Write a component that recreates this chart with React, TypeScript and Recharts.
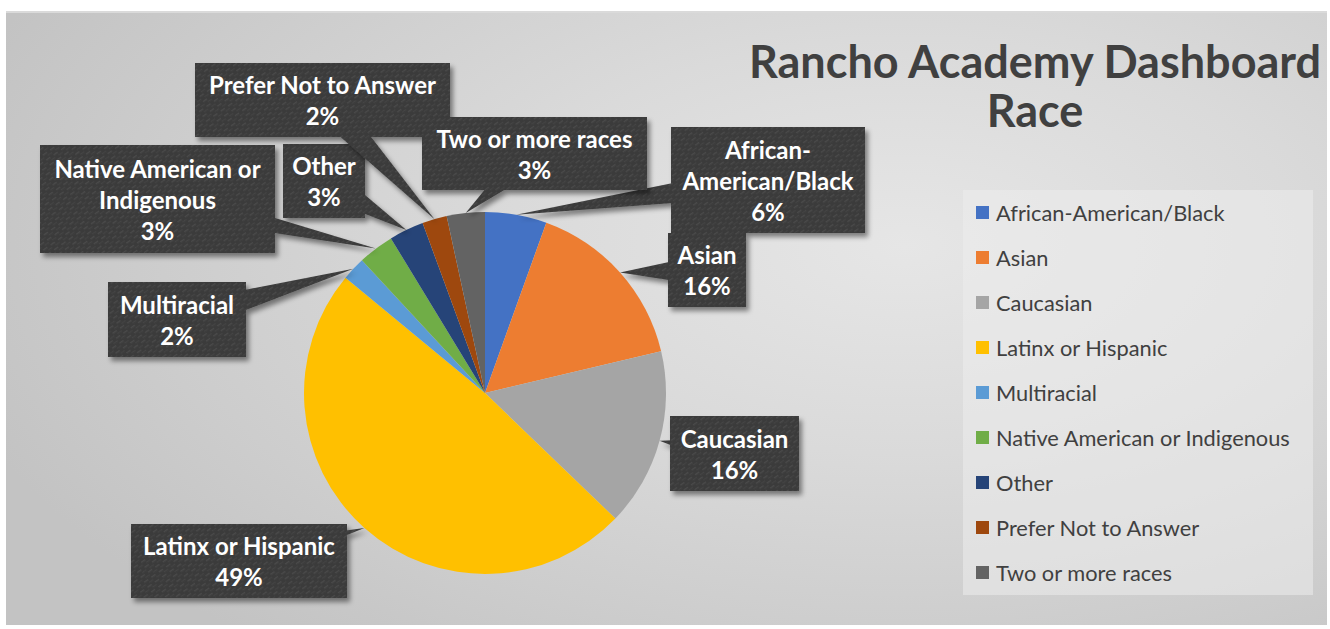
import React from 'react';
import { PieChart, Pie, Cell, Legend } from 'recharts';

// Race breakdown, Rancho Academy dashboard
const categories = [
  'African-American/Black',
  'Asian',
  'Caucasian',
  'Latinx or Hispanic',
  'Multiracial',
  'Native American or Indigenous',
  'Other',
  'Prefer Not to Answer',
  'Two or more races',
];
const shares = [5.5, 15.8, 15.9, 48.8, 2.1, 3.2, 3.1, 2.2, 3.4];
const sliceColors = ['#4472C4', '#ED7D31', '#A5A5A5', '#FFC000', '#5B9BD5', '#70AD47', '#264478', '#9E480E', '#636363'];

const data = categories.map((name, i) => ({ name, value: shares[i] }));

// callout boxes were dragged around by hand in the original, so keep their spots here
const calloutBoxes = [
  { x: 671, y: 127, w: 194, h: 106 },
  { x: 668, y: 233, w: 78, h: 74 },
  { x: 670, y: 416, w: 129, h: 75 },
  { x: 131, y: 524, w: 216, h: 74 },
  { x: 108, y: 282, w: 138, h: 75 },
  { x: 40, y: 145, w: 235, h: 108 },
  { x: 283, y: 144, w: 82, h: 74 },
  { x: 195, y: 63, w: 255, h: 74 },
  { x: 422, y: 117, w: 225, h: 73 },
];

const FONT = 'Lato, "Open Sans", sans-serif';
const LABEL_FONT = `bold 24px ${FONT}`;
const RAD = Math.PI / 180;

let measureCtx: CanvasRenderingContext2D | null = null;
const textWidth = (s: string) => {
  if (!measureCtx) measureCtx = document.createElement('canvas').getContext('2d');
  if (!measureCtx) return s.length * 12;
  measureCtx.font = LABEL_FONT;
  return measureCtx.measureText(s).width;
};

// greedy wrap, breaking on spaces and after hyphens
const wrap = (text: string, maxW: number) => {
  const tokens = text.match(/[^\s-]+-?\s*/g) || [text];
  const lines: string[] = [];
  let cur = '';
  tokens.forEach((t) => {
    const next = cur + t;
    if (cur && textWidth(next.trim()) > maxW) {
      lines.push(cur.trim());
      cur = t;
    } else {
      cur = next;
    }
  });
  if (cur.trim()) lines.push(cur.trim());
  return lines;
};

const renderCallout = (props: any) => {
  const { cx, cy, midAngle, outerRadius, index, percent, name } = props;
  const box = calloutBoxes[index];
  const tipX = cx + outerRadius * Math.cos(-midAngle * RAD);
  const tipY = cy + outerRadius * Math.sin(-midAngle * RAD);
  const bx = box.x + box.w / 2;
  const by = box.y + box.h / 2;
  const dx = tipX - bx;
  const dy = tipY - by;
  const len = Math.sqrt(dx * dx + dy * dy) || 1;
  const half = Math.min(16, Math.min(box.w, box.h) / 4);
  const px = (-dy / len) * half;
  const py = (dx / len) * half;
  const lines = [...wrap(name, box.w - 6), `${Math.round(percent * 100)}%`];
  const lh = 31;
  const firstY = by - ((lines.length - 1) * lh) / 2;

  return (
    <g key={`callout-${index}`}>
      <g filter="url(#calloutShadow)">
        <polygon
          points={`${tipX},${tipY} ${bx + px},${by + py} ${bx - px},${by - py}`}
          fill="url(#carbon)"
        />
        <rect x={box.x} y={box.y} width={box.w} height={box.h} fill="url(#carbon)" />
      </g>
      {lines.map((ln, i) => (
        <text
          key={i}
          x={bx}
          y={firstY + i * lh}
          textAnchor="middle"
          dominantBaseline="central"
          fill="#ffffff"
          style={{ font: LABEL_FONT }}
        >
          {ln}
        </text>
      ))}
    </g>
  );
};

const renderLegend = (props: any) => {
  const items = props.payload || [];
  return (
    <div
      style={{
        width: 350,
        height: 405,
        background: 'rgba(236,236,236,0.55)',
        boxSizing: 'border-box',
      }}
    >
      {items.map((it: any, i: number) => (
        <div
          key={i}
          style={{
            height: 45,
            display: 'flex',
            alignItems: 'center',
            paddingLeft: 13,
            fontFamily: FONT,
            fontSize: 21.8,
            color: '#404040',
          }}
        >
          <span
            style={{
              width: 13,
              height: 13,
              background: it.color || sliceColors[i],
              marginRight: 7,
              flex: 'none',
            }}
          />
          {it.value}
        </div>
      ))}
    </div>
  );
};

export default function App() {
  return (
    <div style={{ position: 'absolute', left: 0, top: 0, width: 1330, height: 629, background: '#fff' }}>
      <svg width={0} height={0} style={{ position: 'absolute' }}>
        <defs>
          <pattern id="carbon" width="9" height="6" patternUnits="userSpaceOnUse" patternTransform="rotate(-35)">
            <rect width="9" height="6" fill="#3b3b3b" />
            <rect x="0" y="1" width="5" height="1.4" fill="#4a4a4a" />
            <rect x="4" y="4" width="5" height="1.2" fill="#444444" />
          </pattern>
          <filter id="calloutShadow" x="-20%" y="-20%" width="140%" height="140%">
            <feDropShadow dx="3" dy="4" stdDeviation="2.5" floodColor="#000" floodOpacity="0.45" />
          </filter>
        </defs>
      </svg>
      <div
        style={{
          position: 'absolute',
          left: 6,
          top: 11,
          width: 1321,
          height: 614,
          borderTop: '2px solid #dadada',
          boxSizing: 'border-box',
          background:
            'radial-gradient(ellipse 75% 85% at 68% 38%, #e6e6e6 0%, #dadada 40%, #cdcdcd 75%, #c3c3c3 100%)',
        }}
      />
      <div
        style={{
          position: 'absolute',
          left: 740,
          top: 37,
          width: 590,
          textAlign: 'center',
          fontFamily: FONT,
          fontWeight: 700,
          fontSize: 45,
          lineHeight: '49px',
          color: '#404040',
        }}
      >
        Rancho Academy Dashboard
        <br />
        Race
      </div>
      <div style={{ position: 'absolute', left: 0, top: 0 }}>
        <PieChart width={1330} height={629} margin={{ top: 0, right: 0, bottom: 0, left: 0 }}>
          <Pie
            data={data}
            dataKey="value"
            nameKey="name"
            cx={485}
            cy={393}
            outerRadius={181}
            startAngle={90}
            endAngle={-270}
            stroke="none"
            label={renderCallout}
            labelLine={false}
            isAnimationActive={false}
          >
            {data.map((d, i) => (
              <Cell key={d.name} fill={sliceColors[i]} />
            ))}
          </Pie>
          <Legend
            layout="vertical"
            verticalAlign="top"
            align="right"
            content={renderLegend}
            wrapperStyle={{ position: 'absolute', left: 963, top: 190, width: 350, height: 405 }}
          />
        </PieChart>
      </div>
    </div>
  );
}
